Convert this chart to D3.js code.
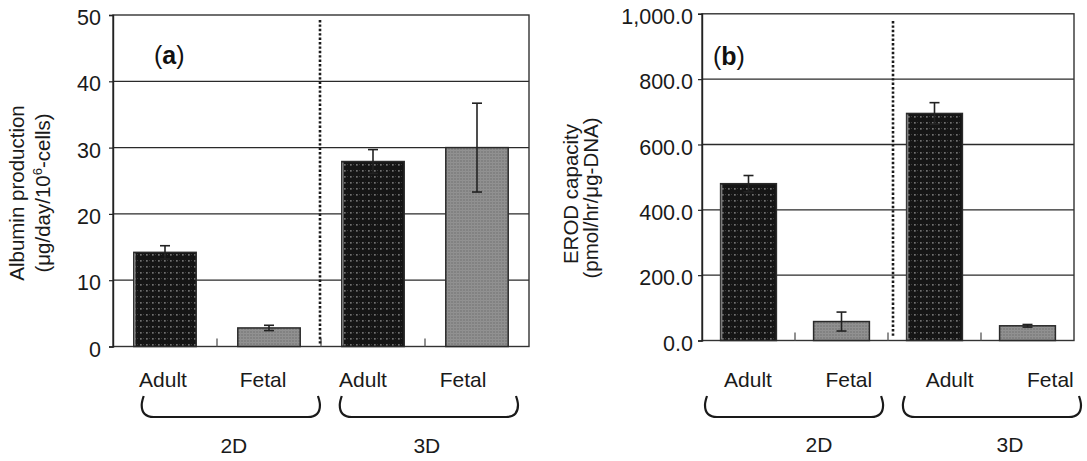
<!DOCTYPE html>
<html>
<head>
<meta charset="utf-8">
<script src="https://cdn.jsdelivr.net/npm/d3@7"></script>
<style>
  html, body { margin: 0; padding: 0; background: #fff; }
  svg { display: block; font-family: "Liberation Sans", Arial, Helvetica, sans-serif; }
</style>
</head>
<body>
<svg id="chart" width="1087" height="461"></svg>
<script>
// Culture conditions and cell sources
const categories = ["Adult", "Fetal", "Adult", "Fetal"];
const groups = ["2D", "3D"];
const barKeys = ["2D-Adult", "2D-Fetal", "3D-Adult", "3D-Fetal"];

// (a) Albumin production, mean and SD
const albumin = [14.2, 2.8, 27.9, 30.0];
const albuminErr = [1.0, 0.4, 1.8, 6.7];
const albuminTicks = [0, 10, 20, 30, 40, 50];

// (b) EROD capacity, mean and SD
const erod = [480, 58, 695, 45];
const erodErr = [25, 29, 33, 4];
const erodTicks = [0, 200, 400, 600, 800, 1000];

const svg = d3.select("#chart");
const defs = svg.append("defs");

// Dotted dark fill for adult bars
const pd = defs.append("pattern").attr("id", "dotsDark")
  .attr("patternUnits", "userSpaceOnUse").attr("width", 6).attr("height", 6);
pd.append("rect").attr("width", 6).attr("height", 6).attr("fill", "#151515");
pd.append("rect").attr("x", 2).attr("y", 2).attr("width", 1.7).attr("height", 1.7).attr("fill", "#707070");
pd.append("rect").attr("x", 5).attr("y", 2).attr("width", 1).attr("height", 1).attr("fill", "#3c3c3c");

// Fine grid fill for fetal bars
const pg = defs.append("pattern").attr("id", "gridGray")
  .attr("patternUnits", "userSpaceOnUse").attr("width", 3).attr("height", 3);
pg.append("rect").attr("width", 3).attr("height", 3).attr("fill", "#828282");
pg.append("rect").attr("width", 3).attr("height", 1).attr("fill", "#929292");
pg.append("rect").attr("width", 1).attr("height", 3).attr("fill", "#8f8f8f");

const fills = ["url(#dotsDark)", "url(#gridGray)", "url(#dotsDark)", "url(#gridGray)"];

function panel(cfg) {
  const g = svg.append("g");
  const x = d3.scaleBand().domain(barKeys).range([cfg.x0, cfg.x1])
    .paddingInner(0.4).paddingOuter(0.2);
  const y = d3.scaleLinear().domain([0, cfg.ticks[cfg.ticks.length - 1]]).range([cfg.yBase, cfg.yTop]);

  // horizontal grid
  g.selectAll("line.grid").data(cfg.ticks.slice(1, -1)).join("line")
    .attr("x1", cfg.x0).attr("x2", cfg.x1)
    .attr("y1", d => y(d)).attr("y2", d => y(d))
    .attr("stroke", "#2a2a2a").attr("stroke-width", 1.3);

  // frame
  g.append("rect").attr("x", cfg.x0).attr("y", y(cfg.ticks[cfg.ticks.length - 1]))
    .attr("width", cfg.x1 - cfg.x0).attr("height", cfg.yBase - y(cfg.ticks[cfg.ticks.length - 1]))
    .attr("fill", "none").attr("stroke", "#333").attr("stroke-width", 1.4);

  // y axis
  const ax = g.append("g").attr("transform", `translate(${cfg.x0},0)`)
    .call(d3.axisLeft(y).tickValues(cfg.ticks).tickSize(4).tickPadding(cfg.pad).tickFormat(cfg.fmt));
  ax.select(".domain").attr("stroke", "#222").attr("stroke-width", 1.4);
  ax.selectAll(".tick line").attr("stroke", "#222").attr("stroke-width", 1.2);
  ax.selectAll(".tick text").attr("font-size", 21.5).attr("fill", "#1a1a1a")
    .attr("font-family", "Liberation Sans, Arial, sans-serif").attr("dy", "0.45em");

  // inner x tick marks between categories
  const between = d3.range(1, barKeys.length).map(i =>
    (x(barKeys[i - 1]) + x.bandwidth() + x(barKeys[i])) / 2);
  g.selectAll("line.xt").data(between).join("line")
    .attr("x1", d => d).attr("x2", d => d)
    .attr("y1", cfg.yBase).attr("y2", cfg.yBase - 8)
    .attr("stroke", "#555").attr("stroke-width", 1.3);

  // bars
  g.selectAll("rect.bar").data(cfg.values).join("rect")
    .attr("x", (d, i) => x(barKeys[i]))
    .attr("width", x.bandwidth())
    .attr("y", d => y(d))
    .attr("height", d => cfg.yBase - y(d))
    .attr("fill", (d, i) => fills[i])
    .attr("stroke", "#2a2a2a").attr("stroke-width", 1.5);
  // lighter left edge on the adult bars
  g.selectAll("line.edge").data(cfg.values.filter((d, i) => i % 2 === 0)).join("line")
    .attr("x1", (d, j) => x(barKeys[j * 2]) + 1).attr("x2", (d, j) => x(barKeys[j * 2]) + 1)
    .attr("y1", d => y(d) + 1).attr("y2", cfg.yBase - 1)
    .attr("stroke", "#7a7a7a").attr("stroke-width", 1.6);

  // error bars
  const eb = g.selectAll("g.err").data(cfg.values).join("g");
  const cx = i => x(barKeys[i]) + x.bandwidth() / 2;
  eb.append("line")
    .attr("x1", (d, i) => cx(i)).attr("x2", (d, i) => cx(i))
    .attr("y1", (d, i) => y(d - cfg.errs[i])).attr("y2", (d, i) => y(d + cfg.errs[i]))
    .attr("stroke", "#222").attr("stroke-width", 1.6);
  [1, -1].forEach(s => {
    eb.append("line")
      .attr("x1", (d, i) => cx(i) - 5).attr("x2", (d, i) => cx(i) + 5)
      .attr("y1", (d, i) => y(d + s * cfg.errs[i])).attr("y2", (d, i) => y(d + s * cfg.errs[i]))
      .attr("stroke", "#222").attr("stroke-width", 1.6);
  });

  // dotted divider between 2D and 3D
  g.append("line")
    .attr("x1", between[1] + cfg.divShift).attr("x2", between[1] + cfg.divShift)
    .attr("y1", cfg.divTop).attr("y2", cfg.yBase - 3)
    .attr("stroke", "#1a1a1a").attr("stroke-width", 2.6)
    .attr("stroke-dasharray", "2.4,2");

  // panel letter
  const lt = g.append("text").attr("x", cfg.letterX).attr("y", cfg.letterY)
    .attr("font-size", 25).attr("fill", "#111");
  lt.append("tspan").text("(");
  lt.append("tspan").attr("font-weight", "bold").text(cfg.letter);
  lt.append("tspan").text(")");

  // y title
  cfg.titleLines.forEach(ln => {
    const t = g.append("text")
      .attr("transform", `translate(${ln.x},${ln.y}) rotate(-90)`)
      .attr("text-anchor", "middle").attr("font-size", 20.5).attr("fill", "#1a1a1a");
    ln.parts.forEach(p => {
      const s = t.append("tspan").text(p.t);
      if (p.sup) s.attr("font-size", 13).attr("dy", "-0.65em");
      if (p.after) s.attr("dy", "0.42em");
    });
  });

  // category labels
  const lx = d3.scaleBand().domain(barKeys).range(cfg.labelRange);
  g.selectAll("text.cat").data(categories).join("text")
    .attr("x", (d, i) => lx(barKeys[i]) + lx.bandwidth() / 2)
    .attr("y", 387).attr("text-anchor", "middle")
    .attr("font-size", 21).attr("fill", "#1a1a1a").text(d => d);

  // braces and group labels
  const gx = d3.scaleBand().domain(groups).range(cfg.braceRange).paddingInner(0.1);
  const top = 396, bot = 417, r = 12;
  g.selectAll("path.brace").data(groups).join("path")
    .attr("d", d => {
      const a = gx(d), b = gx(d) + gx.bandwidth();
      return `M${a + 2},${top} Q${a},${top + 6} ${a},${bot - r} Q${a},${bot} ${a + r},${bot} ` +
             `L${b - r},${bot} Q${b},${bot} ${b},${bot - r} Q${b},${top + 6} ${b - 2},${top}`;
    })
    .attr("fill", "none").attr("stroke", "#1a1a1a").attr("stroke-width", 2.2);
  g.selectAll("text.grp").data(groups).join("text")
    .attr("x", (d, i) => gx(d) + gx.bandwidth() / 2 + cfg.groupShift[i])
    .attr("y", cfg.groupY).attr("text-anchor", "middle")
    .attr("font-size", 21).attr("fill", "#1a1a1a").text(d => d);
}

panel({
  x0: 113, x1: 529, yTop: 15, yBase: 346.5,
  ticks: albuminTicks, values: albumin, errs: albuminErr,
  fmt: d3.format("d"), pad: 8,
  divShift: -1, divTop: 20,
  letter: "a", letterX: 154, letterY: 64,
  titleLines: [
    { x: 24, y: 193, parts: [{ t: "Albumin production" }] },
    { x: 50, y: 193, parts: [{ t: "(μg/day/10" }, { t: "6", sup: true }, { t: "-cells)", after: true }] }
  ],
  labelRange: [113, 513],
  braceRange: [141.7, 518],
  groupShift: [3, -2], groupY: 453
});

panel({
  x0: 702, x1: 1074, yTop: 13.8, yBase: 340.5,
  ticks: erodTicks, values: erod, errs: erodErr,
  fmt: d3.format(",.1f"), pad: 5,
  divShift: 5, divTop: 21,
  letter: "b", letterX: 713, letterY: 65,
  titleLines: [
    { x: 578, y: 194, parts: [{ t: "EROD capacity" }] },
    { x: 597.5, y: 198, parts: [{ t: "(pmol/hr/μg-DNA)" }] }
  ],
  labelRange: [697.6, 1100.8],
  braceRange: [705, 1081],
  groupShift: [25, 18], groupY: 452
});
</script>
</body>
</html>
